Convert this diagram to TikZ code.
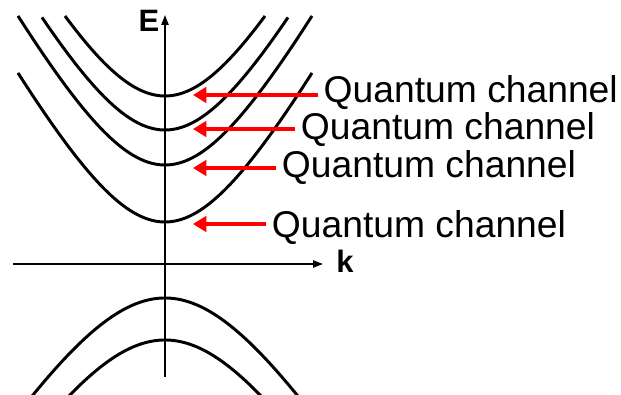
\documentclass[tikz,border=0pt]{standalone}
\usepackage{fontspec}
\setmainfont{Liberation Sans}
\usetikzlibrary{arrows.meta,positioning,calc}
\tikzset{
  band/.style={line width=2.1pt, black},
  axis/.style={line width=1.3pt, black, -{Triangle[length=7pt, width=5pt]}},
  chan/.style={anchor=base west, inner xsep=4pt, font=\fontsize{26.5}{30}\selectfont},
  axlabel/.style={font=\fontsize{22}{26}\selectfont\bfseries, inner sep=0pt},
  point/.style={red, line width=3.2pt, -{Triangle[length=9.5pt, width=11pt]}},
}
\begin{document}
\begin{tikzpicture}[x=1cm, y=1cm]
\useasboundingbox (-4.125,-3.275) rectangle (11.4,6.6);
% axes
\coordinate (ebot) at (0,-2.825);
\coordinate (etop) at (0,6.225);
\coordinate (kleft) at (-3.8,0);
\coordinate (kright) at (3.95,0);
\draw[axis] (ebot) -- (etop);
\draw[axis] (kleft) -- (kright);
\node[axlabel] (E) at (-0.4,6.075) {E};
\node[axlabel] (k) at (4.5,0.075) {k};
% conduction bands
\foreach \emin/\hw in {4.2/2.5, 3.35/3.075, 2.475/3.675, 1.05/3.675}
  \draw[band] plot[domain=-\hw:\hw, samples=80, smooth] (\x, {\emin+sqrt(19.25+3.45*\x*\x)-4.3875});
% valence bands
\foreach \emax/\hw in {-0.85/3.35, -1.9/2.42}
  \draw[band] plot[domain=-\hw:\hw, samples=80, smooth] (\x, {\emax-sqrt(23.52+2.70*\x*\x)+4.85});
% channel labels
\coordinate (tip1) at (0.7,4.225);
\coordinate (tip2) at (0.7,3.375);
\coordinate (tip3) at (0.7,2.4);
\coordinate (tip4) at (0.7,1.0);
\node[chan] (lab1) at (3.82,4.025) {Quantum channel};
\node[chan] (lab2) at (3.25,3.1) {Quantum channel};
\node[chan] (lab3) at (2.775,2.15) {Quantum channel};
\node[chan] (lab4) at (2.525,0.65) {Quantum channel};
\draw[point] (tip1 -| lab1.west) -- (tip1);
\draw[point] (tip2 -| lab2.west) -- (tip2);
\draw[point] (tip3 -| lab3.west) -- (tip3);
\draw[point] (tip4 -| lab4.west) -- (tip4);
\end{tikzpicture}
\end{document}
